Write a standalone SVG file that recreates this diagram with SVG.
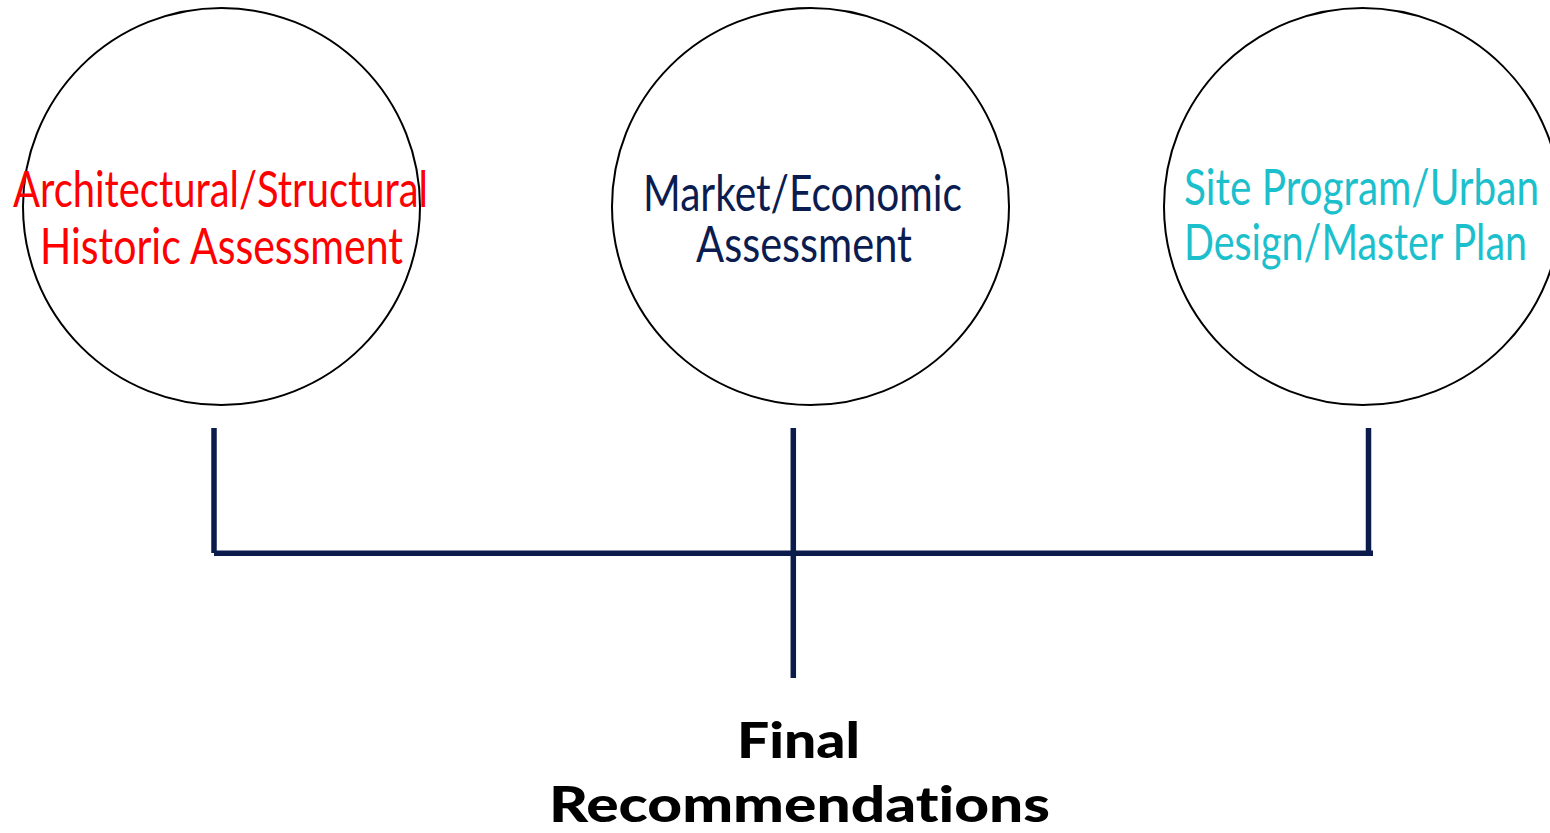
<svg xmlns="http://www.w3.org/2000/svg" width="1550" height="833" viewBox="0 0 1550 833">
<style>
.c{fill:#ffffff;stroke:#000000;stroke-width:2}
.t{font-family:Lato,"Liberation Sans",sans-serif;font-size:50px;font-variant-ligatures:none}
.red{fill:#ff0000}
.navy{fill:#0b1d50}
.cyan{fill:#1cbfcc}
.fin{font-family:Lato,"Liberation Sans",sans-serif;font-size:49px;font-weight:900;fill:#000000;font-variant-ligatures:none}
.ln{stroke:#0b1c4c;stroke-width:5.5;fill:none}
</style>
<rect width="1550" height="833" fill="#ffffff"/>
<g id="node-arch">
<circle class="c" cx="221.5" cy="206.5" r="198.5"/>
<text class="t red" x="13" y="207" textLength="415" lengthAdjust="spacingAndGlyphs">Architectural/Structural</text>
<text class="t red" x="40" y="264" textLength="363" lengthAdjust="spacingAndGlyphs">Historic Assessment</text>
</g>
<g id="node-market">
<circle class="c" cx="810.5" cy="206.5" r="198.5"/>
<text class="t navy" x="643" y="211" textLength="319" lengthAdjust="spacingAndGlyphs">Market/Economic</text>
<text class="t navy" x="696" y="262" textLength="216" lengthAdjust="spacingAndGlyphs">Assessment</text>
</g>
<g id="node-site">
<circle class="c" cx="1362.5" cy="206.5" r="198.5"/>
<text class="t cyan" x="1184" y="205" textLength="355" lengthAdjust="spacingAndGlyphs">Site Program/Urban</text>
<text class="t cyan" x="1184" y="260" textLength="343" lengthAdjust="spacingAndGlyphs">Design/Master Plan</text>
</g>
<g id="connectors">
<line class="ln" x1="214" y1="428" x2="214" y2="553"/>
<line class="ln" x1="1368.5" y1="428" x2="1368.5" y2="556"/>
<line class="ln" x1="214" y1="553.3" x2="1373" y2="553.3"/>
<line class="ln" x1="793.3" y1="428" x2="793.3" y2="678"/>
</g>
<g id="node-final">
<text class="fin" x="737" y="758" textLength="123" lengthAdjust="spacingAndGlyphs">Final</text>
<text class="fin" x="549" y="822" textLength="501" lengthAdjust="spacingAndGlyphs">Recommendations</text>
</g>
</svg>
